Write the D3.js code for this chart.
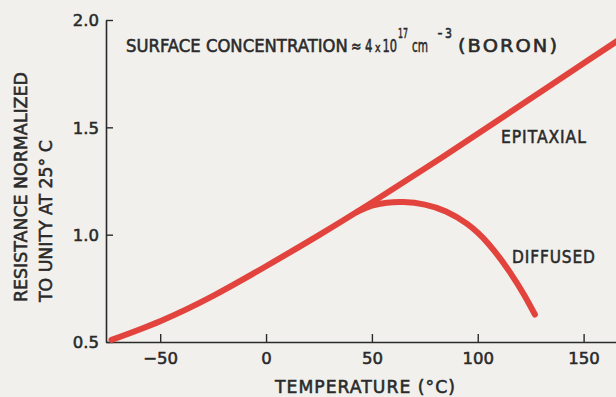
<!DOCTYPE html>
<html><head><meta charset="utf-8">
<script src="https://cdn.jsdelivr.net/npm/d3@7"></script>
<style>html,body{margin:0;padding:0;background:#f1f0ed;}svg{display:block}</style>
</head><body><svg id="c" width="616" height="397"></svg>
<script>
// ---- data ----
const epiTemp = [-73, -50, -25, 0, 25, 50, 75, 100, 125, 150, 166];
const epiRes  = [0.51, 0.597, 0.715, 0.853, 0.998, 1.150, 1.308, 1.470, 1.634, 1.798, 1.903];
const difTemp = [43, 50, 57, 65, 75, 85, 95, 105, 115, 122, 127];
const difRes  = [1.106, 1.135, 1.149, 1.152, 1.140, 1.108, 1.050, 0.958, 0.828, 0.718, 0.628];
const xTicks = [-50, 0, 50, 100, 150];
const xTickLabels = ["\u221250", "0", "50", "100", "150"];
const yTicks = [0.5, 1.0, 1.5, 2.0];
const yTickLabels = ["0.5", "1.0", "1.5", "2.0"];
const seriesLabels = ["EPITAXIAL", "DIFFUSED"];

const svg = d3.select("#c");
const ink = "#2a2a2a", red = "#e3433d", font = "DejaVu Sans";
svg.append("rect").attr("width", 616).attr("height", 397).attr("fill", "#f1f0ed");

const x = d3.scaleLinear().domain([-75.6, 165.3]).range([106, 616]);
const y = d3.scaleLinear().domain([0.5, 2.0]).range([342, 20]);

// axes
const xa = svg.append("g").attr("transform", "translate(0,342)")
  .call(d3.axisBottom(x).tickValues(xTicks).tickFormat((d, i) => xTickLabels[i]).tickSize(-8).tickSizeOuter(0));
const ya = svg.append("g").attr("transform", "translate(106,0)")
  .call(d3.axisLeft(y).tickValues(yTicks).tickFormat((d, i) => yTickLabels[i]).tickSize(-7).tickSizeOuter(0));
[xa, ya].forEach(g => {
  g.selectAll("path.domain").attr("stroke", ink).attr("stroke-width", 1.6);
  g.selectAll(".tick line").attr("stroke", ink).attr("stroke-width", 1.4);
  g.selectAll("text").attr("font-family", font).attr("font-size", 16.5).attr("fill", ink)
    .attr("stroke", ink).attr("stroke-width", 0.55);
});
xa.selectAll(".tick text").attr("y", 21.5).attr("dy", 0);
ya.selectAll(".tick text").attr("x", -7).attr("dy", "0.36em");

// lines
const line = d3.line().x(d => x(d[0])).y(d => y(d[1])).curve(d3.curveNatural);
const epi = epiTemp.map((t, i) => [t, epiRes[i]]);
const dif = difTemp.map((t, i) => [t, difRes[i]]);
[epi, dif].forEach(d => svg.append("path").datum(d).attr("d", line)
  .attr("fill", "none").attr("stroke", red).attr("stroke-width", 6)
  .attr("stroke-linecap", "round").attr("stroke-linejoin", "round"));

// text helper: horizontally scaled so the natural width equals len
function txt(s, xx, yy, len, opts = {}) {
  const t = svg.append("text").attr("x", 0).attr("y", 0).text(s)
    .attr("font-family", font).attr("font-size", opts.size || 17).attr("fill", ink)
    .attr("stroke", ink).attr("stroke-width", 0.55);
  if (opts.ls) t.attr("letter-spacing", opts.ls);
  const w = t.node().getComputedTextLength() - (opts.ls || 0);
  const k = len / w;
  t.attr("transform", `translate(${xx},${yy})${opts.rot ? " rotate(-90)" : ""} scale(${k},1)`);
  return t;
}

// title pieces
txt("SURFACE CONCENTRATION", 126, 52, 222);
txt("\u2248", 351, 52, 10.5);
txt("4", 365, 52, 7.5);
txt("x", 375, 52, 5.5, {size: 13});
txt("10", 382.5, 52, 14.5);
txt("17", 398, 38, 10, {size: 14});
txt("cm", 412, 52, 16);
txt("-", 437.5, 38, 5, {size: 14});
txt("3", 445, 38, 7, {size: 14});
txt("(BORON)", 458, 52, 99, {ls: 1.8});

// series labels
txt(seriesLabels[0], 501, 143, 85, {ls: 1});
txt(seriesLabels[1], 512, 263, 83, {ls: 1});

// axis titles
txt("TEMPERATURE (\u00B0C)", 275, 393, 180, {ls: 1});
txt("RESISTANCE NORMALIZED", 27, 302, 230, {rot: true});
txt("TO UNITY AT 25\u00B0 C", 52, 302, 162, {rot: true});
</script></body></html>
